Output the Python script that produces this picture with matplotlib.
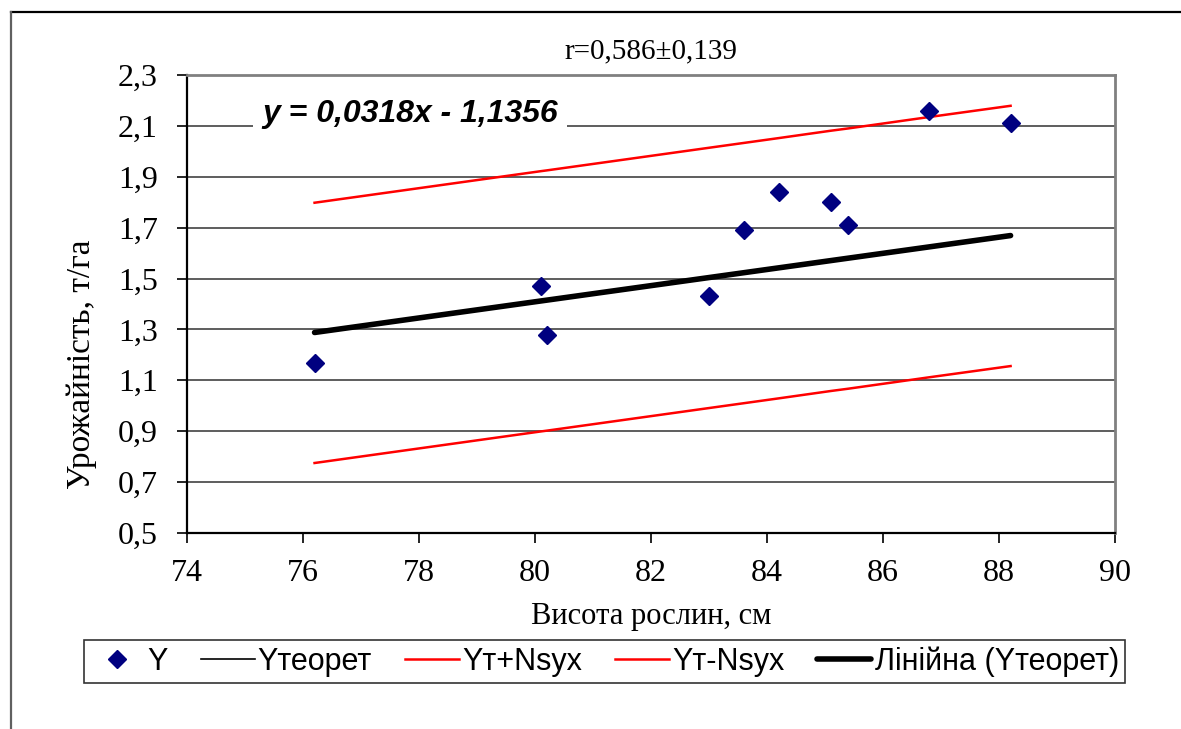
import numpy as np
import matplotlib.pyplot as plt
from matplotlib.lines import Line2D

# data
height = [76.2, 80.1, 80.2, 83.0, 83.6, 84.2, 85.1, 85.4, 86.8, 88.2]
yield_obs = [1.17, 1.47, 1.28, 1.43, 1.69, 1.84, 1.80, 1.71, 2.16, 2.11]
y_teor = [1.288, 1.412, 1.415, 1.504, 1.523, 1.542, 1.571, 1.580, 1.625, 1.669]
y_plus = [1.798, 1.922, 1.925, 2.014, 2.033, 2.052, 2.081, 2.090, 2.135, 2.179]
y_minus = [0.775, 0.899, 0.902, 0.991, 1.010, 1.029, 1.058, 1.067, 1.112, 1.156]

x_ticks = [74, 76, 78, 80, 82, 84, 86, 88, 90]
y_ticks = [0.5, 0.7, 0.9, 1.1, 1.3, 1.5, 1.7, 1.9, 2.1, 2.3]

serif = 'Liberation Serif'
sans = 'Liberation Sans'

fig = plt.figure(figsize=(11.81, 7.29), dpi=100)
ax = fig.add_axes([0.1583, 0.2689, 0.7858, 0.6282])

ax.set_xlim(74, 90)
ax.set_ylim(0.5, 2.3)
ax.set_xticks(x_ticks)
ax.set_yticks(y_ticks)
ax.set_xticklabels([str(v) for v in x_ticks], fontfamily=serif, fontsize=23)
ax.set_yticklabels([f'{v:.1f}'.replace('.', ',') for v in y_ticks], fontfamily=serif, fontsize=23)
ax.tick_params(axis='both', direction='out', length=7, width=1.2, color='black')
ax.tick_params(axis='y', pad=14)
ax.tick_params(axis='x', pad=12)

# horizontal grid
for v in y_ticks[1:]:
    ax.axhline(v, color='#505050', lw=1.3, zorder=1)

for s in ['left', 'bottom']:
    ax.spines[s].set_color('black')
    ax.spines[s].set_linewidth(1.6)
for s in ['top', 'right']:
    ax.spines[s].set_color('#808080')
    ax.spines[s].set_linewidth(2)

ax.plot(height, y_teor, color='black', lw=1.2, zorder=3, label='Yтеорет')
ax.plot(height, y_plus, color='#ff0000', lw=1.8, zorder=3, label='Yт+Nsyx')
ax.plot(height, y_minus, color='#ff0000', lw=1.8, zorder=3, label='Yт-Nsyx')
ax.plot([height[0], height[-1]], [y_teor[0], y_teor[-1]], color='black', lw=4,
        solid_capstyle='round', zorder=4, label='Лінійна (Yтеорет)')
ax.plot(height, yield_obs, linestyle='none', marker='D', ms=9, color='#000080',
        zorder=5, label='Y')

ax.text(0.081, 0.915, 'y = 0,0318x - 1,1356', transform=ax.transAxes,
        fontfamily=sans, fontsize=23, fontweight='bold', fontstyle='italic',
        va='center', ha='left', zorder=6,
        bbox=dict(facecolor='white', edgecolor='none', pad=7))

ax.set_title('r=0,586±0,139', fontfamily=serif, fontsize=21, pad=12)
ax.set_xlabel('Висота рослин, см', fontfamily=serif, fontsize=22, labelpad=10)
ax.set_ylabel('Урожайність, т/га', fontfamily=serif, fontsize=24)
ax.yaxis.set_label_coords(-0.097, 0.369)

handles, labels = ax.get_legend_handles_labels()
order = [4, 0, 1, 2, 3]
leg = fig.legend([handles[i] for i in order], [labels[i] for i in order],
                 loc='center', bbox_to_anchor=(0.5118, 0.0926), ncol=5,
                 prop={'family': sans, 'size': 22}, frameon=True, fancybox=False,
                 edgecolor='black', borderpad=0.2, borderaxespad=0,
                 handlelength=1.77, handletextpad=0.1, columnspacing=1.08,
                 numpoints=1)
leg.get_frame().set_linewidth(1.2)

# outer frame of the chart
fig.add_artist(Line2D([0.0093, 1.0], [0.9835, 0.9835], transform=fig.transFigure,
                      color='black', lw=1.6))
fig.add_artist(Line2D([0.0093, 0.0093], [0.0, 0.9835], transform=fig.transFigure,
                      color='#606060', lw=1.6))

fig.savefig('out.png', dpi=100)
